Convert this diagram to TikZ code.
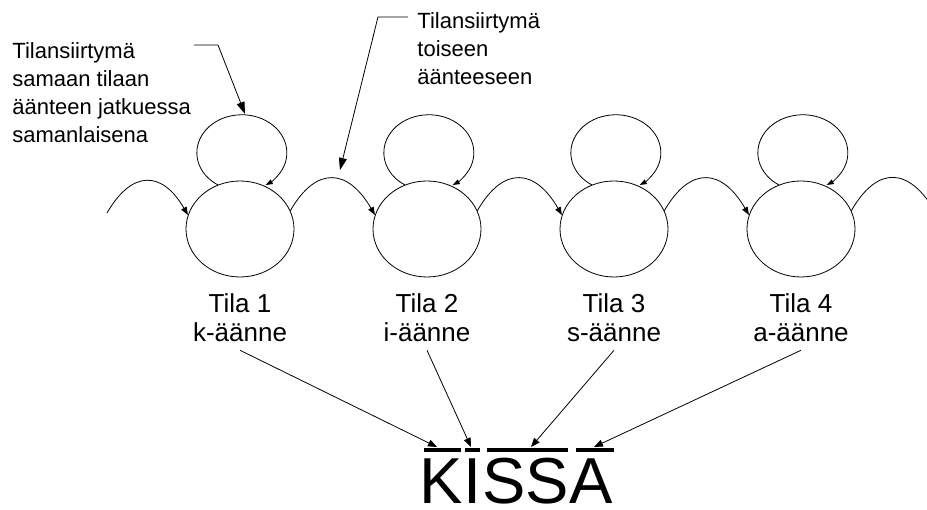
\documentclass[tikz,border=0pt]{standalone}
\usepackage{fontspec}
\setmainfont{Liberation Sans}
\usetikzlibrary{arrows.meta,positioning,shapes.geometric,calc}

\begin{document}
\begin{tikzpicture}[x=1pt, y=1pt, line width=0.8pt,
  state/.style={draw,ellipse,minimum width=108pt,minimum height=96pt,inner sep=0pt},
  statelab/.style={align=center,inner sep=0pt,font=\fontsize{26}{29}\selectfont},
  note/.style={align=left,inner sep=0pt,anchor=north west,font=\fontsize{22}{28}\selectfont},
  letter/.style={anchor=base west,inner sep=0pt,font=\fontsize{65}{70}\selectfont},
  move/.style={-{Triangle[length=8pt,width=6pt]}},
  self/.style={-{Triangle[length=7pt,width=5pt]}},
  ptr/.style={-{Triangle[length=12pt,width=8pt]}},
  down/.style={-{Triangle[length=9pt,width=7pt]}},
  overbar/.style={line width=4.3pt}]
\clip (0,0) rectangle (927,510);

% states and their labels
\node[state] (s1) at (240,281) {};
\node[state] (s2) at (427,281) {};
\node[state] (s3) at (614,281) {};
\node[state] (s4) at (801,281) {};
\node[statelab,below=16pt of s1] (l1) {Tila 1\\k-äänne};
\node[statelab,below=16pt of s2] (l2) {Tila 2\\i-äänne};
\node[statelab,below=16pt of s3] (l3) {Tila 3\\s-äänne};
\node[statelab,below=16pt of s4] (l4) {Tila 4\\a-äänne};

% self loops
\foreach \s in {s1,s2,s3,s4}
  \draw[self] (\s.center) ++(-22,44) arc[start angle=238,end angle=-58,x radius=45,y radius=38];

% transitions
\coordinate (enter) at (107,297);
\coordinate (leave) at (936,297);
\draw[move] (enter) to[out=60,in=120,looseness=1.6] (s1.165);
\draw[move] (s1.20) to[out=60,in=120,looseness=1.6] (s2.165);
\draw[move] (s2.20) to[out=60,in=120,looseness=1.6] (s3.165);
\draw[move] (s3.20) to[out=60,in=120,looseness=1.6] (s4.165);
\draw (s4.20) to[out=60,in=120,looseness=1.6] (leave);

% notes
\node[note] (nself) at (12,468) {Tilansiirtymä\\samaan tilaan\\äänteen jatkuessa\\samanlaisena};
\node[note] (nnext) at (417,498) {Tilansiirtymä\\toiseen\\äänteeseen};
\coordinate (p1) at (194,465);
\coordinate (p2) at (408,493);
\coordinate (looptop) at (245,396);
\coordinate (arctop) at (340,340);
\draw[ptr] (p1) -- ++(24,0) -- (looptop);
\draw[ptr] (p2) -- ++(-30,0) -- (arctop);

% the word
\node[letter] (wK) at (419,6) {K};
\node[letter] (wI) at (wK.base east) {I};
\node[letter] (wS) at (wI.base east) {SS};
\node[letter] (wA) at (wS.base east) {A};
\coordinate (barY) at (0,60);
\foreach \w/\a/\b in {wK/5/2,wI/2/2,wS/5/2,wA/6/0}
  \draw[overbar] ($(\w.west |- barY)+(\a,0)$) -- ($(\w.east |- barY)-(\b,0)$);

\coordinate (tK) at (437,63);
\coordinate (tI) at (471,63);
\coordinate (tS) at (531,63);
\coordinate (tA) at (594,63);
\draw[down] ([yshift=-8pt]l1.south) -- (tK);
\draw[down] ([yshift=-8pt]l2.south) -- (tI);
\draw[down] ([yshift=-8pt]l3.south) -- (tS);
\draw[down] ([yshift=-8pt]l4.south) -- (tA);
\end{tikzpicture}
\end{document}
